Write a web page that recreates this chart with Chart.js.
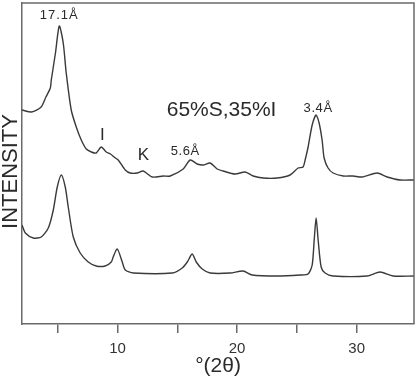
<!DOCTYPE html>
<html lang="en">
<head>
  <meta charset="UTF-8" />
  <title>XRD pattern</title>
  <script src="https://cdn.jsdelivr.net/npm/chart.js"></script>
  <style>
    html, body { margin: 0; padding: 0; background: #fff; }
    canvas { display: block; }
  </style>
</head>
<body>
  <canvas id="xrdChart" width="420" height="382"></canvas>

  <script>
    // upper trace: 65%S,35%I sample
    const upperAngles = [2.0, 2.8, 3.6, 4.0, 4.37, 4.45, 4.8, 5.12, 5.45, 5.7, 6.12, 6.54, 6.96, 7.38, 7.8, 8.21, 8.63, 9.05, 9.4, 9.7, 10.05, 10.64, 11.06, 11.64, 12.14, 12.9, 13.82, 14.4, 15.49, 16.07, 16.66, 17.16, 17.74, 18.33, 18.83, 19.84, 20.67, 21.34, 22.18, 23.35, 24.43, 25.1, 25.52, 25.69, 25.94, 26.28, 26.61, 26.86, 27.11, 27.28, 27.61, 28.03, 28.87, 29.7, 30.46, 31.71, 32.55, 33.64, 34.8];
    const upperIntensity = [214, 212, 217, 227, 236, 244, 271, 298, 281, 251, 214, 197, 184, 175, 172, 171, 177, 172, 170, 167, 164, 154, 151, 151, 153, 147, 148, 148, 155, 164, 160, 159, 161, 155, 153, 150, 152, 148, 146, 146, 149, 156, 157, 164, 177, 199, 209, 201, 184, 166, 156, 151, 148, 148, 147, 151, 147, 144, 144];

    // lower trace
    const lowerAngles = [2.0, 2.28, 2.95, 3.61, 4.2, 4.62, 4.95, 5.29, 5.62, 5.87, 6.29, 6.87, 7.54, 8.21, 8.96, 9.47, 9.63, 9.97, 10.39, 10.64, 11.31, 14.57, 15.41, 15.83, 16.24, 16.58, 17.08, 17.74, 19.42, 20.5, 21.26, 23.35, 25.27, 25.94, 26.28, 26.45, 26.61, 26.78, 27.03, 27.36, 28.03, 30.88, 31.96, 33.05, 34.8];
    const lowerIntensity = [99, 91, 86, 87, 96, 114, 137, 149, 137, 117, 87, 71, 62, 58, 58, 62, 67, 75, 62, 54, 51, 51, 56, 62, 70, 62, 55, 51, 51, 53, 49, 48, 49, 50, 59, 84, 106, 84, 57, 51, 48, 48, 52, 48, 48];

    const xTicks = [5, 10, 15, 20, 25, 30];
    const noteTexts = ["17.1Å", "I", "K", "5.6Å", "3.4Å", "65%S,35%I"];

    const FONT = "'Liberation Sans', Arial, sans-serif";
    const INK = "#3a3a3a";
    const FRAME = "#6a6a6a";

    const toPoints = (xs, ys) => xs.map((x, i) => ({ x: x, y: ys[i] }));

    // frame on top/right, text notes, y title
    const decorPlugin = {
      id: 'decor',
      afterDraw(chart) {
        const ctx = chart.ctx;
        const { top, right, bottom, left } = chart.chartArea;
        const xs = chart.scales.x, ys = chart.scales.y;

        ctx.save();
        ctx.strokeStyle = FRAME;
        ctx.lineWidth = 1.5;
        ctx.beginPath();
        ctx.moveTo(left, top);
        ctx.lineTo(right, top);
        ctx.lineTo(right, bottom);
        ctx.stroke();

        ctx.fillStyle = "#2a2a2a";
        ctx.textAlign = "center";
        ctx.textBaseline = "middle";

        const notes = [
          { at: [5.12, 309], size: 13, gap: "1px" },
          { at: [8.72, 189], size: 17, gap: "0px" },
          { at: [12.15, 169], size: 17, gap: "0px" },
          { at: [15.66, 173], size: 13, gap: "0.6px" },
          { at: [26.78, 216], size: 13, gap: "0.6px" },
          { at: [18.7, 214], size: 21, gap: "0px" }
        ];
        notes.forEach((n, i) => {
          ctx.font = n.size + "px " + FONT;
          ctx.letterSpacing = n.gap;
          ctx.fillText(noteTexts[i], xs.getPixelForValue(n.at[0]), ys.getPixelForValue(n.at[1]));
        });

        ctx.letterSpacing = "0px";
        ctx.font = "22px " + FONT;
        ctx.translate(11, 171.5);
        ctx.rotate(-Math.PI / 2);
        ctx.fillText("INTENSITY", 0, 0);
        ctx.restore();
      }
    };

    new Chart(document.getElementById("xrdChart"), {
      type: 'scatter',
      data: {
        datasets: [
          { data: toPoints(upperAngles, upperIntensity) },
          { data: toPoints(lowerAngles, lowerIntensity) }
        ]
      },
      options: {
        responsive: false,
        animation: false,
        showLine: true,
        layout: { padding: { top: 3, right: 6, left: 0, bottom: 0 } },
        elements: {
          point: { radius: 0, hoverRadius: 0 },
          line: { borderColor: INK, borderWidth: 1.4, tension: 0.25, fill: false }
        },
        scales: {
          x: {
            type: 'linear',
            min: 2,
            max: 34.8,
            afterBuildTicks(scale) {
              scale.ticks = xTicks.map(v => ({ value: v }));
            },
            afterFit(scale) { scale.height = 58; },
            ticks: {
              autoSkip: false,
              maxRotation: 0,
              padding: 7,
              color: "#333",
              font: { size: 15, family: FONT },
              callback: v => (v % 10 === 0 ? v : '')
            },
            grid: { drawOnChartArea: false, drawTicks: true, tickLength: 9, color: FRAME, lineWidth: 1.5 },
            border: { display: true, color: FRAME, width: 1.5 },
            title: {
              display: true,
              text: '°(2θ)',
              color: "#2a2a2a",
              font: { size: 21, family: FONT, lineHeight: 1 },
              padding: { top: 0, bottom: 5 }
            }
          },
          y: {
            min: 0,
            max: 321,
            afterFit(scale) { scale.width = 22; },
            ticks: { display: false },
            grid: { drawOnChartArea: false, drawTicks: false },
            border: { display: true, color: FRAME, width: 1.5 }
          }
        },
        plugins: {
          legend: { display: false },
          tooltip: { enabled: false }
        }
      },
      plugins: [decorPlugin]
    });
  </script>
</body>
</html>
